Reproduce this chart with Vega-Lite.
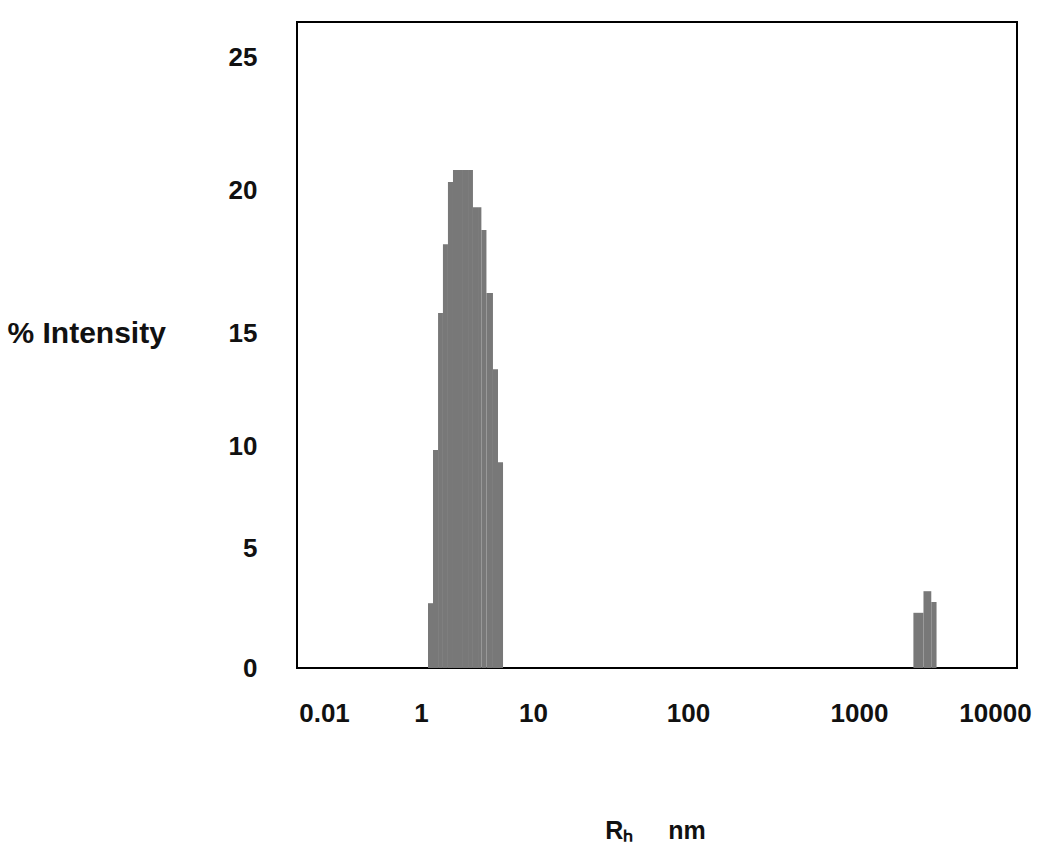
{
  "$schema": "https://vega.github.io/schema/vega-lite/v6.json",
  "autosize": "none",
  "padding": {"left": 297, "top": 22, "right": 22, "bottom": 177},
  "width": 720,
  "height": 646,
  "background": "white",
  "config": {
    "view": {"stroke": "black", "strokeWidth": 2},
    "font": "Liberation Sans"
  },
  "data": {
    "values": [
      {"r0": 1.155, "r1": 1.28, "pct": 2.7},
      {"r0": 1.28, "r1": 1.42, "pct": 9.8},
      {"r0": 1.42, "r1": 1.57, "pct": 15.7},
      {"r0": 1.57, "r1": 1.74, "pct": 18.1},
      {"r0": 1.74, "r1": 1.93, "pct": 20.3},
      {"r0": 1.93, "r1": 2.14, "pct": 20.75},
      {"r0": 2.14, "r1": 2.37, "pct": 20.75},
      {"r0": 2.37, "r1": 2.63, "pct": 20.75},
      {"r0": 2.63, "r1": 2.91, "pct": 20.75},
      {"r0": 2.91, "r1": 3.23, "pct": 19.4},
      {"r0": 3.23, "r1": 3.46, "pct": 19.4},
      {"r0": 3.46, "r1": 3.84, "pct": 18.6},
      {"r0": 3.84, "r1": 4.39, "pct": 16.4},
      {"r0": 4.39, "r1": 4.87, "pct": 13.4},
      {"r0": 4.87, "r1": 5.4, "pct": 9.2},
      {"r0": 2512, "r1": 2979, "pct": 2.3},
      {"r0": 2979, "r1": 3400, "pct": 3.2},
      {"r0": 3400, "r1": 3717, "pct": 2.75}
    ]
  },
  "mark": {"type": "rect", "fill": "#787878", "stroke": null},
  "encoding": {
    "x": {
      "field": "r0",
      "type": "quantitative",
      "scale": {
        "type": "log",
        "domain": [0.00277, 0.01, 1, 10, 100, 1000, 10000, 14500],
        "range": [0, 27, 124, 236, 391, 562, 698, 720],
        "nice": false
      },
      "axis": {
        "values": [0.01, 1, 10, 100, 1000, 10000],
        "labelExpr": "datum.value == 0.01 ? '0.01' : format(datum.value, 'd')",
        "grid": false,
        "domain": false,
        "ticks": false,
        "labelPadding": 32,
        "labelFont": "Liberation Sans",
        "labelFontWeight": "bold",
        "labelFontSize": 26,
        "labelColor": "#111",
        "labelFlush": false,
        "labelOverlap": false,
        "title": "Rₕ\u00a0\u00a0\u00a0\u00a0\u00a0nm",
        "titleFont": "Liberation Sans",
        "titleFontWeight": "bold",
        "titleFontSize": 25,
        "titleColor": "#111",
        "titleX": 358,
        "titleY": 162,
        "titleBaseline": "middle",
        "titleAlign": "center"
      }
    },
    "x2": {"field": "r1"},
    "y": {
      "field": "pct",
      "type": "quantitative",
      "scale": {
        "type": "linear",
        "domain": [0, 5, 10, 15, 20, 25, 26.3],
        "range": [646, 526, 424, 311, 168, 35, 0],
        "nice": false,
        "zero": false
      },
      "axis": {
        "values": [0, 5, 10, 15, 20, 25],
        "grid": false,
        "domain": false,
        "ticks": false,
        "labelPadding": 40,
        "labelFont": "Liberation Sans",
        "labelFontWeight": "bold",
        "labelFontSize": 26,
        "labelColor": "#111",
        "labelFlush": false,
        "labelOverlap": false,
        "title": "% Intensity",
        "titleAngle": 0,
        "titleFont": "Liberation Sans",
        "titleFontWeight": "bold",
        "titleFontSize": 30,
        "titleColor": "#111",
        "titleAlign": "left",
        "titleBaseline": "middle",
        "titleX": -290,
        "titleY": 311
      }
    },
    "y2": {"datum": 0}
  }
}
